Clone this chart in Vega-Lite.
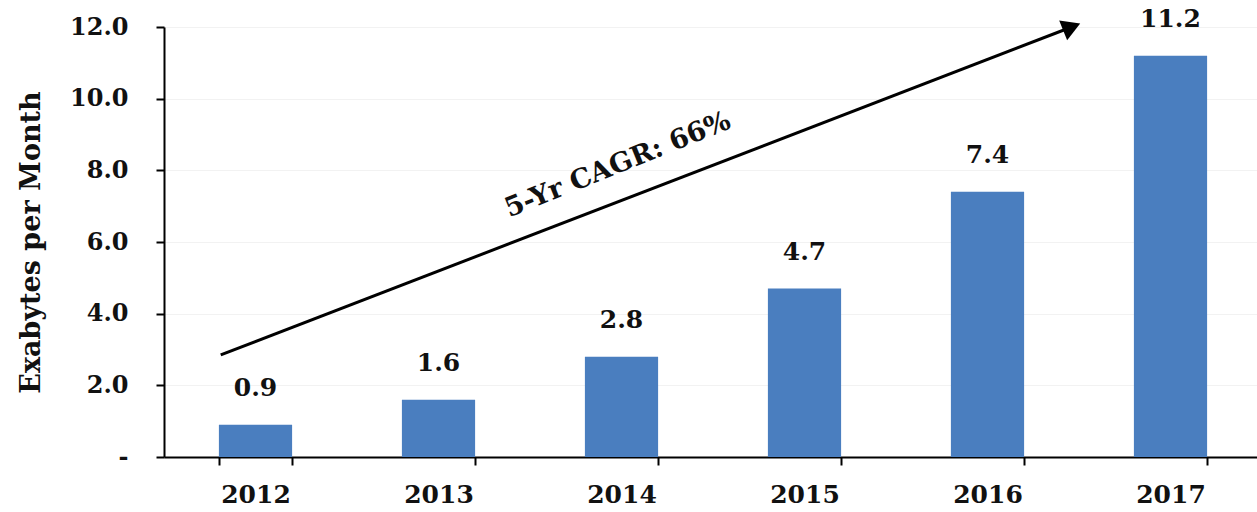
{
  "$schema": "https://vega.github.io/schema/vega-lite/v6.json",
  "width": 1098,
  "height": 430,
  "autosize": {"type": "none"},
  "padding": {"left": 164, "top": 27, "right": 0, "bottom": 55},
  "background": "white",
  "config": {
    "view": {"stroke": null},
    "font": "DejaVu Serif"
  },
  "datasets": {
    "traffic": [
      {"year": "2012", "value": 0.9},
      {"year": "2013", "value": 1.6},
      {"year": "2014", "value": 2.8},
      {"year": "2015", "value": 4.7},
      {"year": "2016", "value": 7.4},
      {"year": "2017", "value": 11.2}
    ],
    "arrow": [
      {"x0": 0.31, "y0": 2.85, "x1": 4.96, "y1": 12.0, "label": "5-Yr CAGR: 66%", "lx": 2.48, "ly": 8.15}
    ]
  },
  "resolve": {"scale": {"x": "independent"}},
  "layer": [
    {
      "data": {"name": "traffic"},
      "mark": {"type": "bar", "color": "#4a7ebf"},
      "encoding": {
        "x": {
          "field": "year", "type": "nominal",
          "scale": {"paddingInner": 0.6, "paddingOuter": 0.3},
          "axis": {
            "title": null, "labelAngle": 0, "labelFont": "DejaVu Serif",
            "labelFontWeight": "bold", "labelFontSize": 25, "labelColor": "#111",
            "labelPadding": 17, "domainColor": "#000", "domainWidth": 2,
            "tickColor": "#000", "tickWidth": 2, "tickSize": 8,
            "tickBand": "extent", "tickExtra": true, "grid": false
          }
        },
        "y": {
          "field": "value", "type": "quantitative",
          "scale": {"domain": [0, 12], "nice": false},
          "axis": {
            "title": "Exabytes per Month", "titleFont": "DejaVu Serif",
            "titleFontWeight": "bold", "titleFontSize": 27, "titleColor": "#111",
            "titlePadding": 24,
            "values": [0, 2, 4, 6, 8, 10, 12],
            "labelExpr": "datum.value == 0 ? '-' : format(datum.value, '.1f')",
            "labelFont": "DejaVu Serif", "labelFontWeight": "bold",
            "labelFontSize": 24, "labelColor": "#111", "labelPadding": 28,
            "domainColor": "#000", "domainWidth": 2,
            "tickColor": "#000", "tickWidth": 2, "tickSize": 8,
            "grid": true, "gridColor": "#f2f2f2", "gridWidth": 1
          }
        }
      }
    },
    {
      "data": {"name": "traffic"},
      "mark": {"type": "text", "baseline": "bottom", "dy": -24, "font": "DejaVu Serif", "fontWeight": "bold", "fontSize": 25, "color": "#111"},
      "encoding": {
        "x": {"field": "year", "type": "nominal", "scale": {"paddingInner": 0.6, "paddingOuter": 0.3}, "axis": null},
        "y": {"field": "value", "type": "quantitative"},
        "text": {"field": "value", "type": "quantitative", "format": ".1f"}
      }
    },
    {
      "data": {"name": "arrow"},
      "mark": {"type": "rule", "strokeWidth": 3, "color": "#000", "clip": false},
      "encoding": {
        "x": {"field": "x0", "type": "quantitative", "scale": {"domain": [0, 6], "nice": false, "zero": false}, "axis": null},
        "y": {"field": "y0", "type": "quantitative"},
        "x2": {"field": "x1"},
        "y2": {"field": "y1"}
      }
    },
    {
      "data": {"name": "arrow"},
      "mark": {"type": "point", "shape": "triangle-right", "filled": true, "color": "#000", "opacity": 1, "size": 450, "angle": 338, "clip": false},
      "encoding": {
        "x": {"field": "x1", "type": "quantitative", "scale": {"domain": [0, 6], "nice": false, "zero": false}, "axis": null},
        "y": {"field": "y1", "type": "quantitative"},
        "tooltip": {"value": null}
      }
    },
    {
      "data": {"name": "arrow"},
      "mark": {"type": "text", "angle": 338, "font": "DejaVu Serif", "fontWeight": "bold", "fontSize": 27, "color": "#111", "align": "center", "baseline": "middle"},
      "encoding": {
        "x": {"field": "lx", "type": "quantitative", "scale": {"domain": [0, 6], "nice": false, "zero": false}, "axis": null},
        "y": {"field": "ly", "type": "quantitative"},
        "text": {"field": "label"}
      }
    }
  ]
}
